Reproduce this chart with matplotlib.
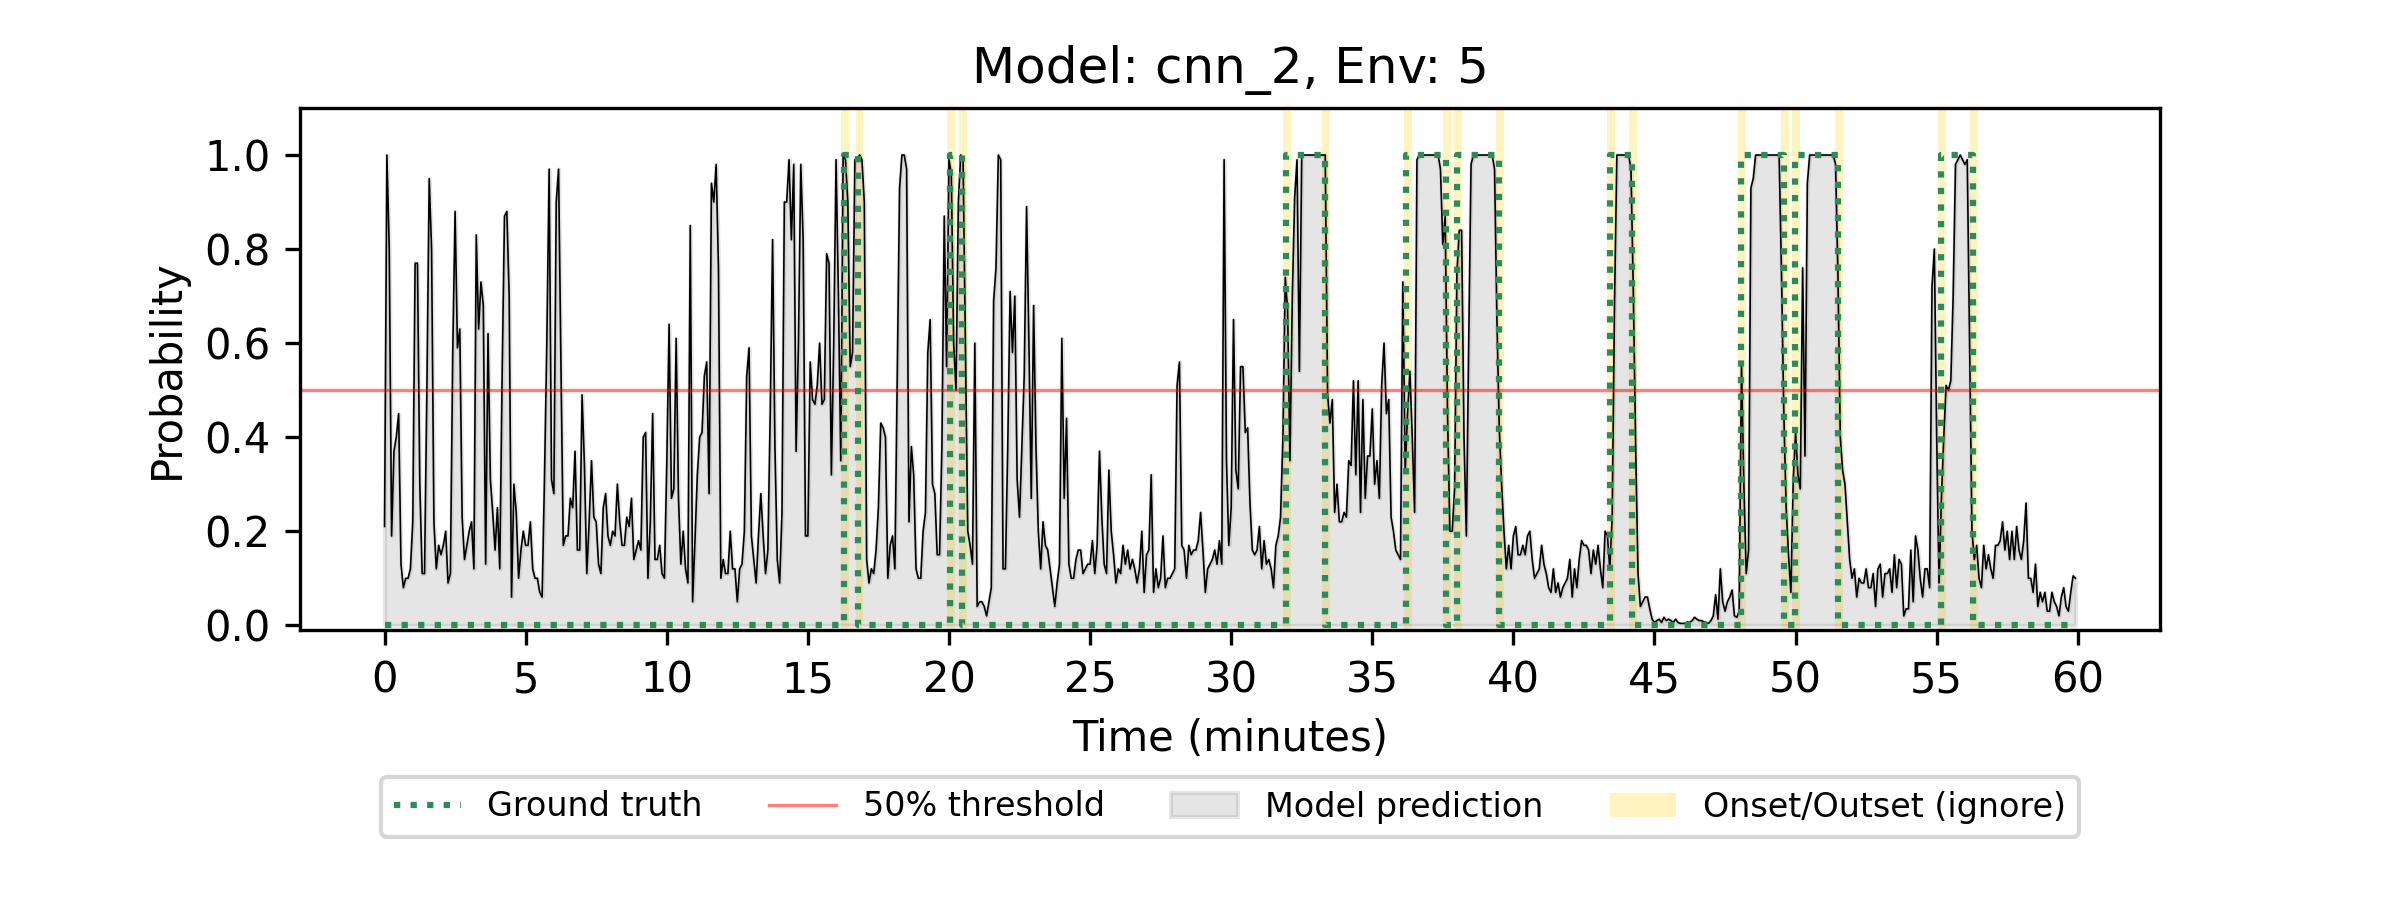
import matplotlib
matplotlib.use("Agg")
import matplotlib.pyplot as plt
import numpy as np

# model probability, one value every 5 s (12 per minute)
prob = [
    0.21, 1.00, 0.80, 0.19, 0.37, 0.40, 0.45, 0.13, 0.08, 0.10, 0.10, 0.12,  # 0
    0.22, 0.77, 0.77, 0.30, 0.11, 0.11, 0.50, 0.95, 0.80, 0.22, 0.12, 0.17,  # 1
    0.15, 0.17, 0.20, 0.09, 0.11, 0.58, 0.88, 0.59, 0.63, 0.23, 0.14, 0.17,  # 2
    0.20, 0.22, 0.12, 0.83, 0.63, 0.73, 0.68, 0.13, 0.62, 0.31, 0.24, 0.16,  # 3
    0.25, 0.12, 0.53, 0.87, 0.88, 0.70, 0.06, 0.30, 0.24, 0.10, 0.16, 0.20,  # 4
    0.17, 0.17, 0.22, 0.12, 0.10, 0.10, 0.07, 0.06, 0.31, 0.60, 0.97, 0.31,  # 5
    0.28, 0.90, 0.97, 0.56, 0.17, 0.19, 0.19, 0.27, 0.25, 0.37, 0.16, 0.16,  # 6
    0.49, 0.34, 0.11, 0.22, 0.35, 0.23, 0.22, 0.13, 0.11, 0.25, 0.28, 0.19,  # 7
    0.17, 0.20, 0.19, 0.30, 0.22, 0.17, 0.17, 0.23, 0.21, 0.27, 0.14, 0.16,  # 8
    0.18, 0.16, 0.40, 0.41, 0.10, 0.22, 0.45, 0.14, 0.14, 0.17, 0.11, 0.10,  # 9
    0.34, 0.64, 0.27, 0.29, 0.61, 0.27, 0.13, 0.20, 0.12, 0.09, 0.85, 0.05,  # 10
    0.18, 0.32, 0.40, 0.41, 0.53, 0.56, 0.28, 0.94, 0.90, 0.98, 0.76, 0.10,  # 11
    0.14, 0.11, 0.11, 0.20, 0.12, 0.12, 0.05, 0.12, 0.13, 0.20, 0.53, 0.59,  # 12
    0.19, 0.14, 0.09, 0.19, 0.28, 0.19, 0.11, 0.16, 0.45, 0.82, 0.38, 0.14,  # 13
    0.09, 0.24, 0.90, 0.90, 0.99, 0.82, 0.98, 0.37, 0.60, 0.98, 0.82, 0.19,  # 14
    0.19, 0.56, 0.48, 0.47, 0.51, 0.60, 0.47, 0.48, 0.79, 0.77, 0.32, 0.60,  # 15
    0.99, 0.70, 0.35, 1.00, 0.99, 0.90, 0.55, 0.58, 0.99, 0.99, 1.00, 0.99,  # 16
    0.90, 0.14, 0.09, 0.12, 0.11, 0.16, 0.25, 0.43, 0.42, 0.40, 0.10, 0.17,  # 17
    0.19, 0.12, 0.53, 0.93, 1.00, 1.00, 0.97, 0.22, 0.38, 0.32, 0.12, 0.10,  # 18
    0.10, 0.20, 0.24, 0.58, 0.65, 0.30, 0.28, 0.15, 0.15, 0.38, 0.87, 0.55,  # 19
    0.99, 0.96, 0.60, 0.50, 0.90, 1.00, 0.99, 0.60, 0.20, 0.17, 0.13, 0.60,  # 20
    0.04, 0.05, 0.05, 0.04, 0.02, 0.05, 0.08, 0.69, 0.76, 1.00, 0.99, 0.12,  # 21
    0.12, 0.38, 0.71, 0.58, 0.70, 0.31, 0.23, 0.38, 0.53, 0.89, 0.60, 0.27,  # 22
    0.68, 0.38, 0.20, 0.12, 0.22, 0.17, 0.16, 0.12, 0.08, 0.04, 0.09, 0.13,  # 23
    0.61, 0.27, 0.44, 0.13, 0.10, 0.10, 0.14, 0.16, 0.16, 0.11, 0.12, 0.13,  # 24
    0.13, 0.18, 0.11, 0.17, 0.37, 0.23, 0.13, 0.11, 0.33, 0.20, 0.15, 0.09,  # 25
    0.12, 0.11, 0.17, 0.13, 0.16, 0.12, 0.14, 0.12, 0.09, 0.12, 0.20, 0.07,  # 26
    0.15, 0.16, 0.32, 0.07, 0.12, 0.08, 0.10, 0.19, 0.08, 0.10, 0.10, 0.11,  # 27
    0.12, 0.51, 0.56, 0.17, 0.16, 0.10, 0.17, 0.15, 0.16, 0.16, 0.18, 0.24,  # 28
    0.16, 0.07, 0.12, 0.13, 0.14, 0.16, 0.13, 0.18, 0.13, 0.99, 0.35, 0.17,  # 29
    0.25, 0.65, 0.33, 0.29, 0.55, 0.55, 0.41, 0.42, 0.26, 0.16, 0.15, 0.16,  # 30
    0.21, 0.12, 0.18, 0.13, 0.14, 0.12, 0.08, 0.17, 0.19, 0.23, 0.40, 0.74,  # 31
    0.67, 0.35, 0.70, 0.91, 0.99, 0.54, 1.00, 1.00, 1.00, 1.00, 1.00, 1.00,  # 32
    1.00, 1.00, 1.00, 1.00, 1.00, 0.49, 0.43, 0.48, 0.24, 0.30, 0.22, 0.22,  # 33
    0.24, 0.23, 0.35, 0.34, 0.52, 0.32, 0.52, 0.24, 0.48, 0.27, 0.36, 0.36,  # 34
    0.46, 0.30, 0.35, 0.27, 0.51, 0.60, 0.45, 0.48, 0.23, 0.20, 0.16, 0.15,  # 35
    0.14, 0.73, 0.33, 0.45, 0.54, 0.40, 0.24, 0.99, 1.00, 1.00, 1.00, 1.00,  # 36
    1.00, 1.00, 1.00, 1.00, 1.00, 0.97, 0.81, 0.87, 0.45, 0.20, 0.20, 0.29,  # 37
    0.75, 0.84, 0.84, 0.40, 0.19, 0.60, 0.98, 1.00, 1.00, 1.00, 1.00, 1.00,  # 38
    1.00, 1.00, 1.00, 1.00, 0.97, 0.65, 0.42, 0.30, 0.20, 0.12, 0.17, 0.12,  # 39
    0.19, 0.21, 0.15, 0.15, 0.17, 0.15, 0.19, 0.20, 0.14, 0.10, 0.11, 0.12,  # 40
    0.17, 0.13, 0.11, 0.08, 0.07, 0.12, 0.07, 0.09, 0.06, 0.08, 0.09, 0.10,  # 41
    0.14, 0.06, 0.12, 0.08, 0.14, 0.18, 0.17, 0.17, 0.16, 0.11, 0.16, 0.13,  # 42
    0.17, 0.12, 0.08, 0.20, 0.19, 0.12, 0.23, 0.68, 1.00, 1.00, 1.00, 1.00,  # 43
    1.00, 1.00, 0.97, 0.71, 0.38, 0.11, 0.04, 0.05, 0.06, 0.06, 0.035, 0.013,  # 44
    0.006, 0.010, 0.013, 0.006, 0.017, 0.010, 0.013, 0.010, 0.006, 0.013, 0.006, 0.004,  # 45
    0.004, 0.004, 0.007, 0.006, 0.010, 0.017, 0.013, 0.010, 0.010, 0.007, 0.006, 0.004,  # 46
    0.010, 0.020, 0.065, 0.013, 0.12, 0.05, 0.03, 0.05, 0.06, 0.075, 0.02, 0.017,  # 47
    0.03, 0.56, 0.30, 0.11, 0.16, 0.93, 0.95, 1.00, 1.00, 1.00, 1.00, 1.00,  # 48
    1.00, 1.00, 1.00, 1.00, 1.00, 1.00, 0.75, 0.45, 0.25, 0.15, 0.07, 0.31,  # 49
    0.41, 0.32, 0.29, 0.76, 0.36, 0.94, 1.00, 1.00, 1.00, 1.00, 1.00, 1.00,  # 50
    1.00, 1.00, 1.00, 1.00, 1.00, 0.98, 0.75, 0.40, 0.33, 0.30, 0.22, 0.14,  # 51
    0.10, 0.12, 0.06, 0.10, 0.09, 0.09, 0.12, 0.08, 0.08, 0.11, 0.04, 0.12,  # 52
    0.13, 0.06, 0.11, 0.11, 0.12, 0.07, 0.15, 0.08, 0.14, 0.13, 0.02, 0.035,  # 53
    0.035, 0.16, 0.05, 0.19, 0.16, 0.10, 0.06, 0.12, 0.12, 0.08, 0.72, 0.80,  # 54
    0.40, 0.09, 0.27, 0.40, 0.51, 0.50, 0.52, 0.70, 0.98, 0.99, 1.00, 0.99,  # 55
    0.98, 0.99, 0.60, 0.20, 0.14, 0.17, 0.10, 0.08, 0.17, 0.12, 0.15, 0.12,  # 56
    0.10, 0.17, 0.17, 0.18, 0.22, 0.16, 0.20, 0.14, 0.20, 0.14, 0.21, 0.16,  # 57
    0.14, 0.18, 0.26, 0.10, 0.10, 0.07, 0.13, 0.04, 0.07, 0.05, 0.07, 0.03,  # 58
    0.03, 0.07, 0.05, 0.04, 0.02, 0.06, 0.08, 0.04, 0.03, 0.07, 0.105, 0.10,  # 59
]

# ground truth events (minutes)
gt_onsets = [16.28, 20.02, 31.95, 36.21, 37.99, 43.43, 48.05, 49.97, 55.15]
gt_offsets = [16.79, 20.46, 33.33, 37.60, 39.50, 44.20, 49.58, 51.51, 56.28]

t = np.arange(len(prob)) * 5 / 60
prob = np.array(prob)

# step line for ground truth
gx = [0.0]
gy = [0]
for on, off in zip(gt_onsets, gt_offsets):
    gx += [on, on, off, off]
    gy += [0, 1, 1, 0]
gx.append(t[-1])
gy.append(0)

fig, ax = plt.subplots(figsize=(8, 3), dpi=300)
fig.subplots_adjust(bottom=0.3)

for x in gt_onsets + gt_offsets:
    span = ax.axvspan(x - 0.1, x + 0.18, color='gold', alpha=0.25, lw=0)

fill = ax.fill_between(t, prob, color='gray', alpha=0.2)
ax.plot(t, prob, color='k', lw=0.4)
thr = ax.axhline(0.5, color='red', alpha=0.5, lw=0.8)
gt_line, = ax.plot(gx, gy, linestyle=':', color='seagreen', lw=1.5)

ax.set_ylim(-0.01, 1.1)
ax.set_xticks(np.arange(0, 61, 5))
ax.set_xlabel('Time (minutes)')
ax.set_ylabel('Probability')
ax.set_title('Model: cnn_2, Env: 5')

ax.legend([gt_line, thr, fill, span],
          ['Ground truth', '50% threshold', 'Model prediction', 'Onset/Outset (ignore)'],
          loc='upper center', bbox_to_anchor=(0.5, -0.25), ncol=4, fontsize=8)

fig.savefig('out.png', dpi=300)
